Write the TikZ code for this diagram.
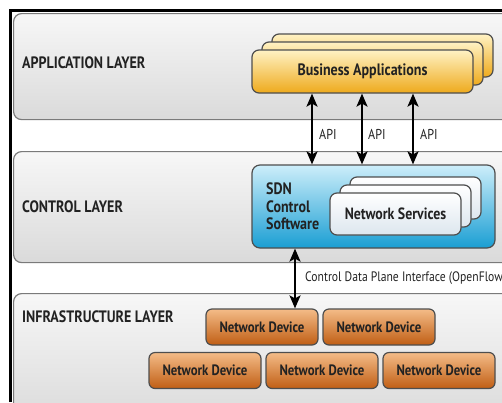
\documentclass[tikz,border=0pt]{standalone}
\usepackage{fontspec}
\setmainfont{PT Sans}[FakeStretch=0.85]
\usetikzlibrary{arrows.meta}

\definecolor{layertop}{HTML}{F7F7F7}
\definecolor{layerbot}{HTML}{DADADA}
\definecolor{layerline}{HTML}{7A7A7A}
\definecolor{apptop}{HTML}{FFF2C4}
\definecolor{appbot}{HTML}{EEAA1C}
\definecolor{sdntop}{HTML}{CDEEFA}
\definecolor{sdnbot}{HTML}{1A9ED3}
\definecolor{svctop}{HTML}{FFFFFF}
\definecolor{svcbot}{HTML}{DCE6EE}
\definecolor{devtop}{HTML}{F4BC88}
\definecolor{devbot}{HTML}{C05E14}
\definecolor{edge}{HTML}{4E4E4E}
\definecolor{txt}{HTML}{222222}

\tikzset{
  layer/.style={draw=layerline, line width=1.2pt, rounded corners=8pt,
    top color=layertop, bottom color=layerbot, anchor=north west,
    minimum width=510pt, inner sep=0pt},
  layertitle/.style={anchor=west, inner sep=0pt, text=txt,
    font=\fontsize{16.5}{18}\selectfont\bfseries},
  appbox/.style={draw=edge, line width=1.2pt, rounded corners=7pt,
    top color=apptop, bottom color=appbot, minimum width=221pt,
    minimum height=43pt, inner sep=0pt, text=txt,
    font=\fontsize{16.5}{18}\selectfont\bfseries},
  sdnbox/.style={draw=edge, line width=1.2pt, rounded corners=8pt,
    top color=sdntop, bottom color=sdnbot, minimum width=243pt,
    minimum height=83pt, inner sep=0pt},
  svcbox/.style={draw=edge, line width=1.2pt, rounded corners=7pt,
    top color=svctop, bottom color=svcbot, minimum width=131pt,
    minimum height=42pt, inner sep=0pt, text=txt,
    font=\fontsize{16.3}{18}\selectfont\bfseries},
  devbox/.style={draw=edge, line width=1.2pt, rounded corners=6pt,
    top color=devtop, bottom color=devbot, minimum width=112pt,
    minimum height=36pt, inner sep=0pt, text=txt,
    font=\fontsize{15}{17}\selectfont\bfseries},
  dblarrow/.style={line width=2pt,
    {Stealth[length=13pt,width=11pt,inset=3pt]}-{Stealth[length=13pt,width=11pt,inset=3pt]}},
  small/.style={inner sep=0pt, text=txt, font=\fontsize{14.3}{16}\selectfont}
}

\begin{document}
\begin{tikzpicture}[x=1pt,y=-1pt]
\useasboundingbox (0,0) rectangle (502,402);
\clip (0,0) rectangle (502,402);

% outer frame on the left and top
\draw[line width=3pt] (10.5,402) -- (10.5,10.5) -- (502,10.5);

% the three layers
\node[layer, minimum height=106pt] (app) at (13,13) {};
\node[layer, minimum height=111pt] (ctl) at (13,151) {};
\node[layer, minimum height=130pt] (inf) at (13,293) {};

\node[layertitle] (appt) at (22,63) {APPLICATION LAYER};
\node[layertitle] (ctlt) at (22,207) {CONTROL LAYER};
\node[layertitle] (inft) at (22,317) {INFRASTRUCTURE LAYER};

% business applications (stacked)
\node[appbox] (ba3) at (382.5,55.5) {};
\node[appbox] (ba2) at (372.5,63.5) {};
\node[appbox] (ba) at (362.5,71.5) {Business Applications};

% SDN controller with stacked network services
\node[sdnbox] (sdn) at (373.5,206.5) {};
\node[anchor=west, align=left, inner sep=0pt, text=txt,
  font=\fontsize{16.5}{17.5}\selectfont\bfseries] (sdnt) at (266,206.5)
  {SDN\\Control\\Software};
\node[svcbox] (ns3) at (415.5,198) {};
\node[svcbox] (ns2) at (405.5,206) {};
\node[svcbox] (ns) at (395.5,214) {Network Services};

% network devices
\node[devbox] (nd1) at (262,327) {Network Device};
\node[devbox] (nd2) at (379,327) {Network Device};
\node[devbox] (nd3) at (205,370.5) {Network Device};
\node[devbox] (nd4) at (322,370.5) {Network Device};
\node[devbox] (nd5) at (439,370.5) {Network Device};

% northbound API arrows
\coordinate (a1) at (312,0);
\coordinate (a2) at (362,0);
\coordinate (a3) at (413,0);
\draw[dblarrow] (ba.south -| a1) -- (sdn.north -| a1);
\draw[dblarrow] (ba.south -| a2) -- (sdn.north -| a2);
\draw[dblarrow] (ba.south -| a3) -- (sdn.north -| a3);
\node[small, anchor=west] (api1) at (319,134) {API};
\node[small, anchor=west] (api2) at (368,134) {API};
\node[small, anchor=west] (api3) at (420,134) {API};

% southbound interface arrow
\coordinate (s1) at (295,0);
\draw[dblarrow] (sdn.south -| s1) -- (nd1.north -| s1);
\node[small, anchor=west, font=\fontsize{13.7}{16}\selectfont] (sbi) at (305,278)
  {Control Data Plane Interface (OpenFlow};
\end{tikzpicture}
\end{document}
